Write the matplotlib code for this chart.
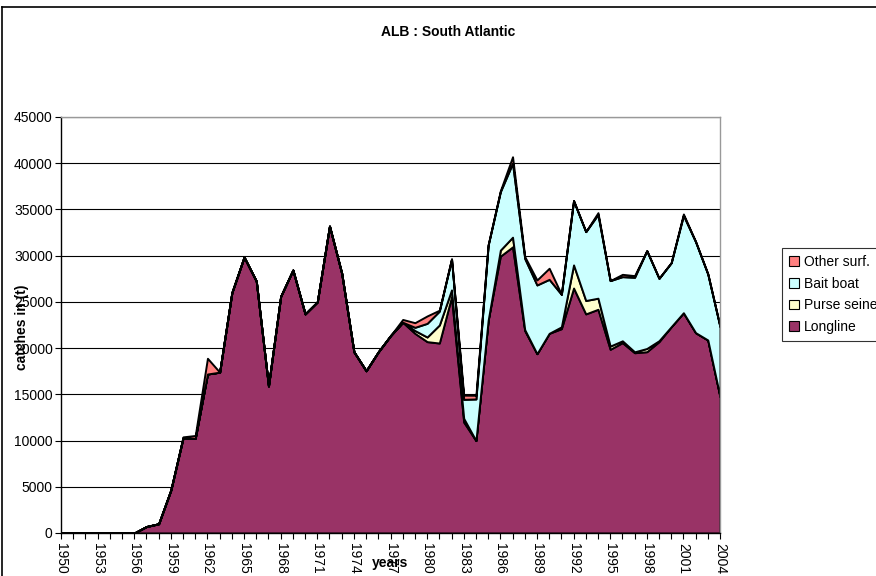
import matplotlib
matplotlib.use("Agg")
import matplotlib.pyplot as plt
import numpy as np
from matplotlib.lines import Line2D
from matplotlib.patches import Patch

plt.rcParams['font.family'] = ['Liberation Sans', 'DejaVu Sans']

years = list(range(1950, 2005))

longline = [0, 0, 0, 0, 0, 0, 0, 700, 1000, 4650,
            10300, 10250, 17200, 17400, 26000, 29850, 27250, 15900, 25600, 28450,
            23700, 25000, 33200, 28100, 19600, 17550, 19600, 21350, 22800, 21600,
            20700, 20550, 25550, 12000, 10000, 23000, 29950, 30950, 21900, 19400,
            21600, 22100, 26500, 23700, 24200, 19870, 20590, 19500, 19610, 20700,
            22320, 23830, 21670, 20880, 14750]

purse_seine = [0] * 29 + [300,
               500, 1950, 750, 400, 0, 0, 650, 1050, 100, 0,
               0, 200, 2500, 1450, 1200, 350, 200, 100, 350, 100,
               0, 0, 0, 0, 0]

bait_boat = [0] * 29 + [350,
             1480, 1500, 3340, 2060, 4500, 8150, 6320, 8000, 7700, 7430,
             5840, 3520, 6950, 7450, 9050, 7080, 6940, 8060, 10580, 6750,
             6920, 10530, 9840, 7140, 7570]

other_surf = [0] * 10 + [100, 300, 1700, 0, 0, 0, 0, 0, 0, 0,
              0, 0, 0, 0, 0, 0, 0, 0, 300, 500,
              800, 100, 0, 450, 400, 0, 100, 700, 200, 540,
              1200, 0, 0, 0, 200, 0, 250, 180, 0, 0,
              0, 150, 0, 0, 0]

series_names = ["Longline", "Purse seine", "Bait boat", "Other surf."]
colors = ["#993366", "#FFFFCC", "#CCFFFF", "#FF8080"]

fig = plt.figure(figsize=(8.76, 5.76), dpi=100)
ax = fig.add_axes([61/876, 1-533/576, (720-61)/876, (533-117)/576])

ax.set_axisbelow(True)
ax.yaxis.grid(True, color="black", linewidth=0.8)
ax.stackplot(years, longline, purse_seine, bait_boat, other_surf,
             colors=colors, edgecolor="black", linewidth=1.4, zorder=2)

ax.set_xlim(1950, 2004)
ax.set_ylim(0, 45000)
ax.set_yticks(np.arange(0, 45001, 5000))
ax.set_yticklabels([str(v) for v in range(0, 45001, 5000)], fontsize=10)
ax.set_xticks(years[::3])
ax.set_xticklabels([str(y) for y in years[::3]], rotation=270, fontsize=10)
ax.set_xticks(years, minor=True)
ax.tick_params(axis='x', which='both', direction='out', length=4, width=0.8, pad=3)
ax.tick_params(axis='y', direction='out', length=4, width=0.8, pad=2)
for lbl in ax.get_xticklabels():
    lbl.set_va('top'); lbl.set_ha('center')

ax.spines['top'].set_color('#999999')
ax.spines['right'].set_color('#999999')
ax.spines['left'].set_color('black')
ax.spines['bottom'].set_color('black')
for s in ax.spines.values():
    s.set_linewidth(1.0)

fig.text(22/876, 1-327/576, "catches in (t)", rotation=90, fontsize=10,
         fontweight='bold', ha='center', va='center')
fig.text(390/876, 1-563/576, "years", fontsize=10, fontweight='bold',
         ha='center', va='center')
fig.text(448/876, 1-32/576, "ALB : South Atlantic", fontsize=10,
         fontweight='bold', ha='center', va='center')

handles = [Patch(facecolor=c, edgecolor='black', linewidth=0.8, label=n)
           for n, c in zip(series_names[::-1], colors[::-1])]
leg = fig.legend(handles=handles, loc='upper left',
                 bbox_to_anchor=(782/876, 1-248/576), fontsize=10,
                 frameon=True, fancybox=False, edgecolor='black',
                 handlelength=0.7, handleheight=0.7, handletextpad=0.4,
                 labelspacing=0.55, borderpad=0.5, borderaxespad=0)
leg.get_frame().set_linewidth(0.8)

# outer chart frame
fig.add_artist(Line2D([2/876, 2/876], [0, 1-7/576], color='black', linewidth=1.2,
                      transform=fig.transFigure))
fig.add_artist(Line2D([2/876, 1], [1-7/576, 1-7/576], color='black', linewidth=1.2,
                      transform=fig.transFigure))

fig.savefig("out.png", dpi=100)
